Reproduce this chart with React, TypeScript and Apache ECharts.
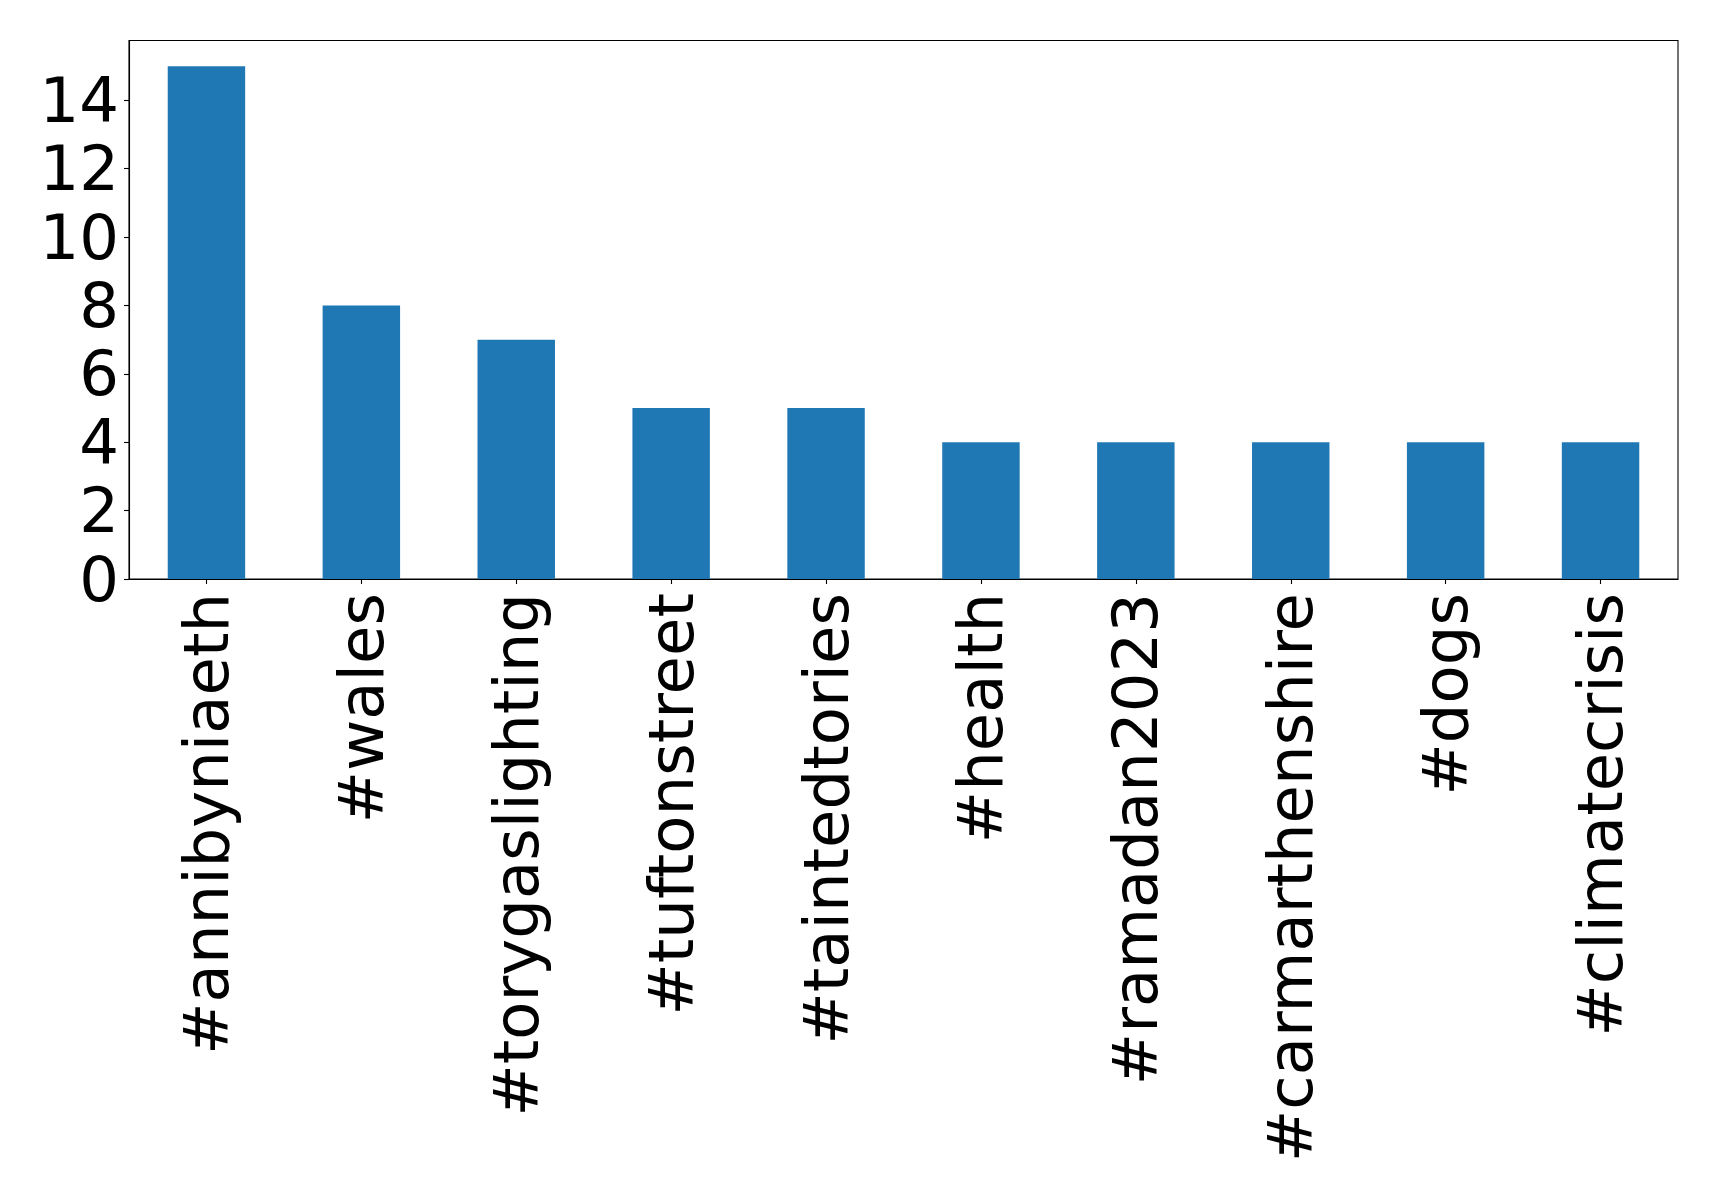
import React, { useEffect, useRef } from "react";
import * as echarts from "echarts";

const categories = [
  "#annibyniaeth",
  "#wales",
  "#torygaslighting",
  "#tuftonstreet",
  "#taintedtories",
  "#health",
  "#ramadan2023",
  "#carmarthenshire",
  "#dogs",
  "#climatecrisis",
];
const counts = [15, 8, 7, 5, 5, 4, 4, 4, 4, 4];

export default function App() {
  const ref = useRef<HTMLDivElement>(null);
  useEffect(() => {
    if (!ref.current) return;
    const chart = echarts.init(ref.current, undefined, { renderer: "svg" });
    const font = "DejaVu Sans";
    chart.setOption({
      animation: false,
      backgroundColor: "#ffffff",
      grid: {
        left: 129,
        right: 41,
        top: 40.5,
        bottom: 618,
        show: true,
        borderColor: "#000000",
        borderWidth: 1.1,
        backgroundColor: "transparent",
      },
      xAxis: {
        type: "category",
        data: categories,
        boundaryGap: true,
        axisLine: { show: true, lineStyle: { color: "#000000", width: 1.1 } },
        axisTick: {
          show: true,
          alignWithLabel: true,
          length: 5,
          lineStyle: { color: "#000000", width: 1.1 },
        },
        axisLabel: {
          rotate: 90,
          interval: 0,
          margin: 14,
          color: "#000000",
          fontFamily: font,
          fontSize: 62.5,
        },
        splitLine: { show: false },
      },
      yAxis: {
        type: "value",
        min: 0,
        max: 15.75,
        interval: 2,
        axisLine: { show: true, lineStyle: { color: "#000000", width: 1.1 } },
        axisTick: {
          show: true,
          length: 5,
          lineStyle: { color: "#000000", width: 1.1 },
        },
        axisLabel: {
          showMaxLabel: false,
          margin: 10,
          color: "#000000",
          fontFamily: font,
          fontSize: 62.5,
        },
        splitLine: { show: false },
      },
      series: [
        {
          type: "bar",
          data: counts,
          barWidth: "50%",
          itemStyle: { color: "#1f77b4" },
        },
      ],
    });
    return () => chart.dispose();
  }, []);
  return (
    <div
      ref={ref}
      style={{ position: "fixed", left: 0, top: 0, width: 1719, height: 1197, background: "#fff" }}
    />
  );
}
